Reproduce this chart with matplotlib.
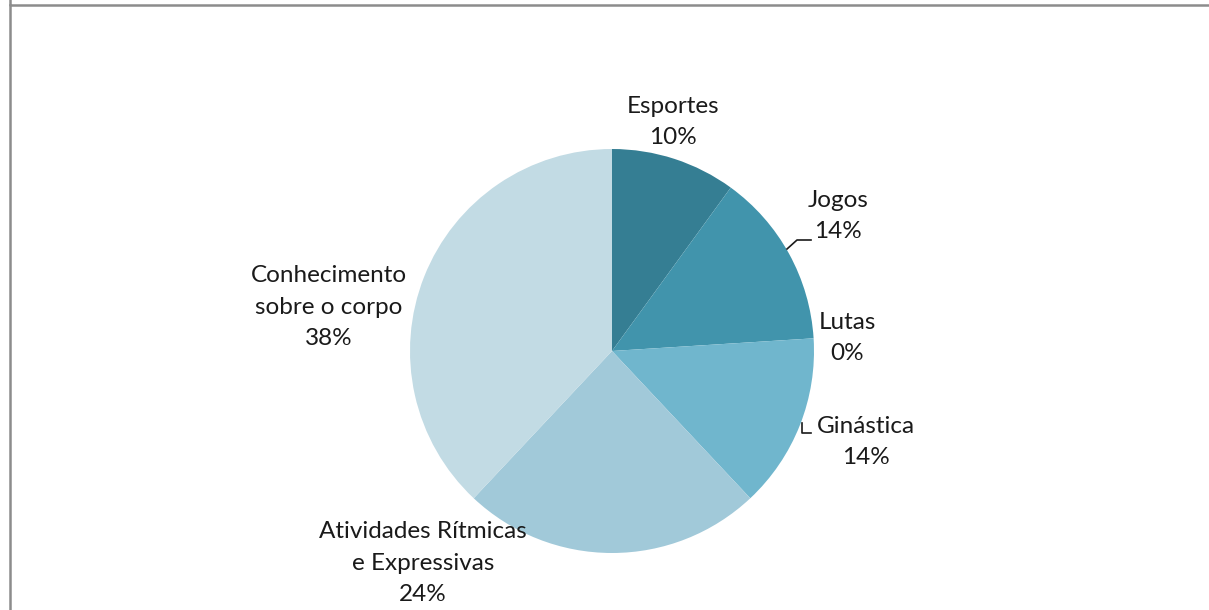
import matplotlib.pyplot as plt
from matplotlib.lines import Line2D

# Share of content areas
categories = ["Esportes", "Jogos", "Lutas", "Ginástica",
              "Atividades Rítmicas\ne Expressivas", "Conhecimento\nsobre o corpo"]
shares = [10, 14, 0, 14, 24, 38]
colors = ["#357E93", "#4194AC", "#5AA6BE", "#70B6CD", "#A1C9D9", "#C2DBE4"]

W, H = 1209, 610
CX, CY, R = 612, 351, 202          # pie centre and radius in pixels


def px(x, y):
    """pixel position -> data coordinates (pie radius = 1)"""
    return (x - CX) / R, (CY - y) / R


fig = plt.figure(figsize=(W / 100, H / 100), dpi=100)
ax = fig.add_axes([0, 0, 1, 1])

ax.pie(shares, colors=colors, startangle=90, counterclock=False, radius=1,
       wedgeprops=dict(linewidth=0))

ax.set_xlim(-CX / R, (W - CX) / R)
ax.set_ylim(-(H - CY) / R, CY / R)
ax.set_aspect("equal")
ax.axis("off")

# label anchor points (pixel centres of each text block)
label_pos = [(673, 122), (838, 216), (847, 338), (866, 442), (423, 563), (329, 307)]
for name, val, (lx, ly) in zip(categories, shares, label_pos):
    x, y = px(lx, ly)
    ax.text(x, y, f"{name}\n{val}%", ha="center", va="center", fontsize=17.5,
            family=["Lato", "DejaVu Sans"], color="#1a1a1a", linespacing=1.62)

# leader lines
for pts in ([(787, 249), (797, 240), (811, 240)],
            [(802, 423), (802, 433), (811, 433)]):
    xs, ys = zip(*[px(a, b) for a, b in pts])
    ax.plot(xs, ys, color="#1a1a1a", lw=1.2)

# chart area border
fig.add_artist(Line2D([9.5 / W, 9.5 / W, 1.01], [1.1, 1 - 4.5 / H, 1 - 4.5 / H],
                      transform=fig.transFigure, color="#8c8c8c", lw=1.8))
fig.add_artist(Line2D([9.5 / W, 9.5 / W], [-0.1, 1 - 4.5 / H],
                      transform=fig.transFigure, color="#8c8c8c", lw=1.8))

fig.savefig("out.png", dpi=100)
